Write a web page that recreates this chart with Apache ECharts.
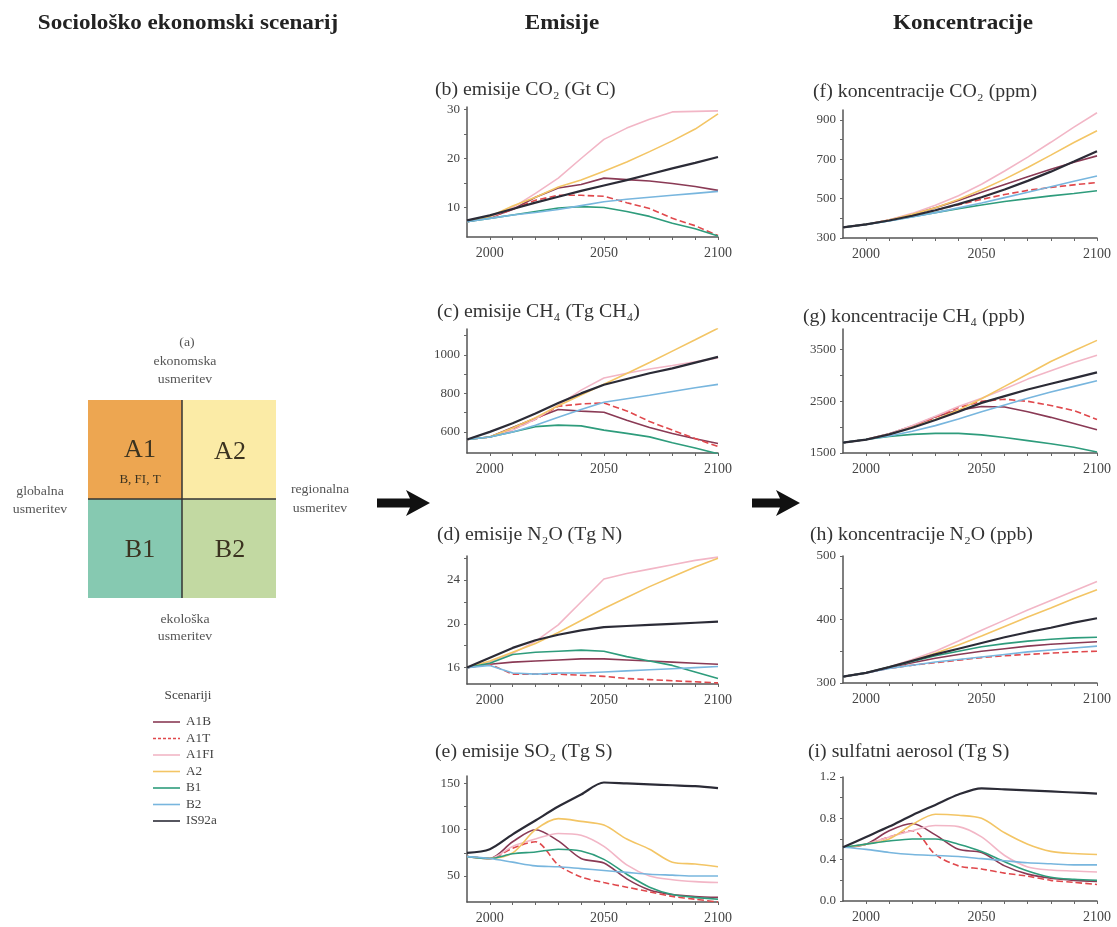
<!DOCTYPE html>
<html>
<head>
<meta charset="utf-8">
<script src="https://cdn.jsdelivr.net/npm/echarts@6/dist/echarts.min.js"></script>
<style>
html,body{margin:0;padding:0;background:#fff}
#chart{width:1117px;height:927px}
</style>
</head>
<body>
<div id="chart"></div>
<script>
// years on every x axis
const years = [1990, 2000, 2010, 2020, 2030, 2040, 2050, 2060, 2070, 2080, 2090, 2100];
const scenarios = ['A1B', 'A1T', 'A1FI', 'A2', 'B1', 'B2', 'IS92a'];
const colors = ['#8a3a55', '#e0484c', '#f2b6c6', '#f3c565', '#2e9c7c', '#78b6de', '#2b2b36'];
const xLabels = [2000, 2050, 2100];
const xTicks = [2000, 2010, 2020, 2030, 2040, 2050, 2060, 2070, 2080, 2090, 2100];

// (b) CO2 emissions, Gt C  (rows follow scenarios order)
const co2Emis = [
  [7.1, 8.0, 9.6, 12.1, 14.0, 14.7, 16.0, 15.7, 15.4, 14.9, 14.3, 13.5],
  [7.1, 8.0, 9.6, 11.5, 12.5, 12.5, 12.3, 11.0, 9.8, 7.8, 6.3, 4.3],
  [7.1, 8.0, 10.0, 12.9, 16.0, 20.0, 23.9, 26.2, 28.0, 29.5, 29.6, 29.7],
  [7.1, 8.2, 10.3, 12.1, 14.2, 15.6, 17.4, 19.3, 21.4, 23.6, 26.0, 29.1],
  [7.1, 7.8, 8.5, 9.2, 9.9, 10.2, 10.0, 9.2, 8.2, 6.8, 5.7, 4.2],
  [7.1, 7.8, 8.5, 9.0, 9.6, 10.4, 11.2, 11.7, 12.1, 12.5, 12.9, 13.3],
  [7.4, 8.4, 9.7, 11.0, 12.2, 13.4, 14.5, 15.6, 16.8, 18.0, 19.1, 20.3]
];
const co2EmisLabels = [10, 20, 30];
const co2EmisTicks = [10, 15, 20, 25, 30];

// (c) CH4 emissions, Tg CH4
const ch4Emis = [
  [560, 573, 623, 671, 716, 708, 702, 660, 623, 591, 564, 539],
  [560, 573, 612, 665, 733, 745, 750, 709, 654, 609, 565, 524],
  [560, 573, 609, 666, 739, 817, 880, 905, 927, 945, 965, 985],
  [560, 573, 620, 674, 736, 792, 848, 904, 961, 1020, 1079, 1139],
  [560, 573, 599, 627, 635, 631, 609, 592, 574, 543, 516, 486],
  [560, 573, 599, 634, 676, 716, 754, 772, 790, 810, 829, 847],
  [560, 600, 645, 695, 750, 800, 845, 875, 905, 930, 960, 990]
];
const ch4EmisLabels = [600, 800, 1000];
const ch4EmisTicks = [600, 700, 800, 900, 1000, 1100];

// (d) N2O emissions, Tg N
const n2oEmis = [
  [16.0, 16.3, 16.5, 16.6, 16.7, 16.8, 16.8, 16.7, 16.6, 16.5, 16.4, 16.3],
  [16.0, 16.3, 15.4, 15.4, 15.4, 15.3, 15.2, 15.0, 14.9, 14.8, 14.7, 14.6],
  [16.0, 16.5, 17.3, 18.4, 19.9, 22.0, 24.1, 24.6, 25.0, 25.4, 25.8, 26.1],
  [16.0, 16.6, 17.4, 18.2, 19.2, 20.3, 21.4, 22.4, 23.4, 24.3, 25.2, 26.0],
  [16.0, 16.4, 17.2, 17.4, 17.5, 17.6, 17.5, 17.0, 16.6, 16.2, 15.6, 15.0],
  [16.0, 16.2, 15.5, 15.4, 15.5, 15.5, 15.6, 15.7, 15.8, 15.9, 16.0, 16.1],
  [16.0, 16.9, 17.8, 18.5, 19.0, 19.4, 19.7, 19.8, 19.9, 20.0, 20.1, 20.2]
];
const n2oEmisLabels = [16, 20, 24];
const n2oEmisTicks = [16, 18, 20, 22, 24, 26];

// (e) SO2 emissions, Tg S
const so2Emis = [
  [71, 69, 87, 100, 88, 69, 64, 47, 35, 30, 28, 27],
  [71, 69, 80, 87, 62, 49, 43, 38, 33, 28, 25, 22],
  [71, 69, 82, 90, 96, 94, 82, 62, 50, 46, 44, 43],
  [71, 69, 75, 100, 112, 109, 105, 90, 79, 65, 63, 60],
  [71, 69, 74, 76, 79, 77, 68, 52, 38, 30, 27, 25],
  [71, 69, 65, 61, 60, 58, 56, 54, 52, 51, 50, 50],
  [75, 79, 95, 110, 125, 138, 151, 150, 149, 148, 147, 145]
];
const so2EmisLabels = [50, 100, 150];
const so2EmisTicks = [50, 75, 100, 125, 150];

// (f) CO2 concentration, ppm
const co2Conc = [
  [354, 369, 391, 420, 454, 491, 532, 572, 611, 649, 685, 717],
  [354, 369, 390, 414, 441, 469, 496, 521, 542, 557, 570, 582],
  [354, 369, 393, 425, 466, 515, 573, 640, 711, 786, 863, 936],
  [354, 369, 391, 420, 454, 496, 545, 599, 658, 721, 785, 845],
  [354, 369, 388, 408, 429, 449, 468, 485, 500, 514, 526, 540],
  [354, 369, 387, 407, 429, 453, 478, 505, 532, 560, 588, 615],
  [354, 369, 389, 413, 441, 472, 507, 546, 590, 637, 688, 740]
];
const co2ConcLabels = [300, 500, 700, 900];
const co2ConcTicks = [300, 400, 500, 600, 700, 800, 900];

// (g) CH4 concentration, ppb
const ch4Conc = [
  [1700, 1760, 1870, 2020, 2200, 2330, 2400, 2390, 2300, 2190, 2070, 1950],
  [1700, 1760, 1860, 2000, 2190, 2380, 2500, 2540, 2500, 2420, 2320, 2150],
  [1700, 1760, 1870, 2030, 2210, 2400, 2560, 2740, 2930, 3090, 3250, 3390],
  [1700, 1760, 1860, 2000, 2150, 2330, 2550, 2790, 3030, 3270, 3480, 3680],
  [1700, 1760, 1820, 1860, 1880, 1880, 1850, 1800, 1740, 1680, 1610, 1520],
  [1700, 1760, 1830, 1920, 2030, 2160, 2300, 2430, 2560, 2680, 2790, 2900],
  [1700, 1760, 1860, 1990, 2140, 2300, 2470, 2600, 2730, 2840, 2950, 3060]
];
const ch4ConcLabels = [1500, 2500, 3500];
const ch4ConcTicks = [1500, 2000, 2500, 3000, 3500];

// (h) N2O concentration, ppb
const n2oConc = [
  [310, 316, 324, 332, 339, 345, 350, 354, 358, 361, 363, 365],
  [310, 316, 323, 328, 332, 336, 340, 343, 345, 347, 349, 350],
  [310, 316, 325, 337, 350, 366, 383, 399, 415, 430, 445, 460],
  [310, 316, 325, 335, 347, 360, 374, 389, 404, 418, 433, 447],
  [310, 316, 325, 334, 343, 350, 357, 362, 366, 369, 371, 372],
  [310, 316, 323, 328, 333, 337, 341, 345, 349, 352, 355, 358],
  [310, 316, 325, 335, 345, 354, 363, 372, 380, 387, 395, 402]
];
const n2oConcLabels = [300, 400, 500];
const n2oConcTicks = [300, 350, 400, 450, 500];

// (i) sulphate aerosol, Tg S
const sulfate = [
  [0.52, 0.55, 0.68, 0.75, 0.64, 0.50, 0.47, 0.34, 0.26, 0.22, 0.20, 0.19],
  [0.52, 0.55, 0.62, 0.68, 0.45, 0.34, 0.31, 0.27, 0.24, 0.20, 0.18, 0.16],
  [0.52, 0.55, 0.62, 0.68, 0.73, 0.72, 0.62, 0.44, 0.33, 0.30, 0.29, 0.28],
  [0.52, 0.55, 0.60, 0.74, 0.84, 0.83, 0.80, 0.66, 0.55, 0.48, 0.46, 0.45],
  [0.52, 0.55, 0.58, 0.60, 0.60, 0.55, 0.48, 0.38, 0.29, 0.23, 0.21, 0.20],
  [0.52, 0.50, 0.47, 0.45, 0.44, 0.43, 0.41, 0.39, 0.37, 0.36, 0.35, 0.35],
  [0.52, 0.62, 0.72, 0.83, 0.93, 1.03, 1.09, 1.08, 1.07, 1.06, 1.05, 1.04]
];
const sulfateLabels = [0, 0.4, 0.8, 1.2];
const sulfateTicks = [0, 0.2, 0.4, 0.6, 0.8, 1.0, 1.2];

const SERIF = '"Liberation Serif", "DejaVu Serif", serif';

const panels = [
  {title: '(b) emisije CO₂ (Gt C)', data: co2Emis, labels: co2EmisLabels, ticks: co2EmisTicks, min: 4, max: 30.5,
   left: 467, top: 107, width: 251, height: 130, tx: 435, ty: 90},
  {title: '(c) emisije CH₄ (Tg CH₄)', data: ch4Emis, labels: ch4EmisLabels, ticks: ch4EmisTicks, min: 490, max: 1135,
   left: 467, top: 329, width: 251, height: 124, tx: 437, ty: 312},
  {title: '(d) emisije N₂O (Tg N)', data: n2oEmis, labels: n2oEmisLabels, ticks: n2oEmisTicks, min: 14.5, max: 26.2,
   left: 467, top: 556, width: 251, height: 128, tx: 437, ty: 535},
  {title: '(e) emisije SO₂ (Tg S)', data: so2Emis, labels: so2EmisLabels, ticks: so2EmisTicks, min: 22, max: 158,
   left: 467, top: 776, width: 251, height: 126, tx: 435, ty: 752, smooth: 0.3},
  {title: '(f) koncentracije CO₂ (ppm)', data: co2Conc, labels: co2ConcLabels, ticks: co2ConcTicks, min: 300, max: 950,
   left: 843, top: 110, width: 254, height: 128, tx: 813, ty: 92},
  {title: '(g) koncentracije CH₄ (ppb)', data: ch4Conc, labels: ch4ConcLabels, ticks: ch4ConcTicks, min: 1500, max: 3900,
   left: 843, top: 329, width: 254, height: 124, tx: 803, ty: 317},
  {title: '(h) koncentracije N₂O (ppb)', data: n2oConc, labels: n2oConcLabels, ticks: n2oConcTicks, min: 300, max: 500,
   left: 843, top: 556, width: 254, height: 127, tx: 810, ty: 535},
  {title: '(i) sulfatni aerosol (Tg S)', data: sulfate, labels: sulfateLabels, ticks: sulfateTicks, min: 0, max: 1.2,
   left: 843, top: 777, width: 254, height: 124, tx: 808, ty: 752, smooth: 0.3, fixed: 1}
];

let grids = [], xAxes = [], yAxes = [], series = [];
let graphics = [];

// stretched serif text, the scan is a bit wider than the font
function label(text, x, y, size, opts) {
  opts = opts || {};
  return {type: 'text', x: x, y: y, scaleX: opts.sx || 1.1, scaleY: 1,
    style: {text: text, font: (opts.bold ? 'bold ' : '') + size + 'px ' + SERIF, fill: opts.fill || '#333',
      align: opts.align || 'center', verticalAlign: 'middle'}};
}

panels.forEach((p, i) => {
  grids.push({left: p.left, top: p.top, width: p.width, height: p.height});
  xAxes.push({
    type: 'value', gridIndex: i, min: 1990, max: 2100,
    axisLine: {show: true, onZero: false, lineStyle: {color: '#555', width: 1.5}},
    axisTick: {show: true, customValues: xTicks, length: 3, lineStyle: {color: '#666'}},
    axisLabel: {customValues: xLabels, fontFamily: SERIF, fontSize: 14, color: '#444', margin: 9,
      formatter: v => String(v)},
    splitLine: {show: false}
  });
  yAxes.push({
    type: 'value', gridIndex: i, min: p.min, max: p.max,
    axisLine: {show: true, lineStyle: {color: '#555', width: 1.5}},
    axisTick: {show: true, customValues: p.ticks, length: 3, lineStyle: {color: '#666'}},
    axisLabel: {customValues: p.labels, fontFamily: SERIF, fontSize: 13, color: '#444', margin: 7,
      formatter: v => p.fixed ? v.toFixed(p.fixed) : String(v)},
    splitLine: {show: false}
  });
  scenarios.forEach((s, k) => {
    series.push({
      name: s, type: 'line', xAxisIndex: i, yAxisIndex: i,
      data: years.map((y, j) => [y, p.data[k][j]]),
      showSymbol: false, silent: true, smooth: p.smooth || false,
      lineStyle: {color: colors[k], width: s === 'IS92a' ? 2.2 : 1.6, type: s === 'A1T' ? 'dashed' : 'solid'}
    });
  });
  graphics.push(label(p.title, p.tx, p.ty, 18, {align: 'left'}));
});

// column headers
const headers = [['Sociološko ekonomski scenarij', 188], ['Emisije', 562], ['Koncentracije', 963]];
headers.forEach(h => graphics.push(label(h[0], h[1], 24, 21, {bold: true, fill: '#222'})));

// scenario diagram (a)
const quads = [
  {x: 88, y: 400, c: '#eda651'}, {x: 182, y: 400, c: '#fbeba6'},
  {x: 88, y: 499, c: '#86c9b1'}, {x: 182, y: 499, c: '#c2d9a2'}
];
quads.forEach(q => graphics.push({type: 'rect', shape: {x: q.x, y: q.y, width: 94, height: 99}, style: {fill: q.c}}));
graphics.push({type: 'line', shape: {x1: 182, y1: 400, x2: 182, y2: 598}, style: {stroke: '#333', lineWidth: 1.5}});
graphics.push({type: 'line', shape: {x1: 88, y1: 499, x2: 276, y2: 499}, style: {stroke: '#333', lineWidth: 1.5}});
const quadText = [['A1', 140, 450, 26], ['B, FI, T', 140, 480, 13], ['A2', 230, 452, 26], ['B1', 140, 550, 26], ['B2', 230, 550, 26]];
quadText.forEach(t => graphics.push(label(t[0], t[1], t[2], t[3], {fill: '#3b3320', sx: 1})));
const sideText = [['(a)', 187, 343], ['ekonomska', 185, 362], ['usmeritev', 185, 380],
  ['globalna', 40, 492], ['usmeritev', 40, 510], ['regionalna', 320, 490], ['usmeritev', 320, 509],
  ['ekološka', 185, 620], ['usmeritev', 185, 637]];
sideText.forEach(t => graphics.push(label(t[0], t[1], t[2], 12, {fill: '#555', sx: 1.15})));

// legend
graphics.push(label('Scenariji', 188, 696, 12, {fill: '#444'}));
scenarios.forEach((s, k) => {
  const y = 722 + k * 16.5;
  graphics.push({type: 'line', shape: {x1: 153, y1: y, x2: 180, y2: y},
    style: {stroke: colors[k], lineWidth: 1.6, lineDash: s === 'A1T' ? [3, 2] : null}});
  graphics.push(label(s, 186, y, 12, {fill: '#444', align: 'left'}));
});

// arrows
function arrow(x0, x1, y) {
  return {type: 'polygon', shape: {points: [
    [x0, y - 4.5], [x1 - 20, y - 4.5], [x1 - 24, y - 13], [x1, y], [x1 - 24, y + 13], [x1 - 20, y + 4.5], [x0, y + 4.5]
  ]}, style: {fill: '#111'}};
}
graphics.push(arrow(377, 430, 503));
graphics.push(arrow(752, 800, 503));

const chart = echarts.init(document.getElementById('chart'));
chart.setOption({
  animation: false,
  backgroundColor: '#fff',
  grid: grids,
  xAxis: xAxes,
  yAxis: yAxes,
  series: series,
  graphic: graphics
});
</script>
</body>
</html>
